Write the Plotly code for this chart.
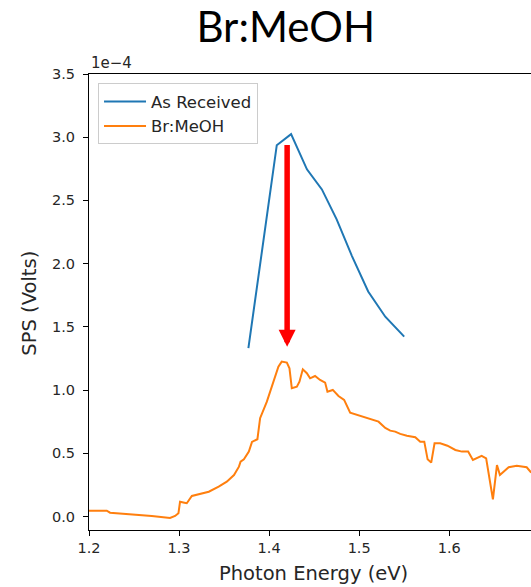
import plotly.graph_objects as go

# Photon energy (eV) and SPS signal (units of 1e-4 V)
as_received_x = [1.377, 1.4085, 1.4244, 1.442, 1.4586, 1.475, 1.492, 1.510, 1.529, 1.55]
as_received_y = [1.331, 2.937, 3.024, 2.746, 2.587, 2.35, 2.06, 1.78, 1.58, 1.423]

brmeoh_x = [1.200, 1.2197, 1.2234, 1.2508, 1.2697, 1.290, 1.2956, 1.2993, 1.3011, 1.306,
            1.3086, 1.3142, 1.318, 1.3253, 1.333, 1.344, 1.353, 1.361, 1.3665, 1.3683,
            1.372, 1.3775, 1.381, 1.387, 1.390, 1.3975, 1.4048, 1.4103, 1.414, 1.4197,
            1.4226, 1.4252, 1.4308, 1.4337, 1.4374, 1.4419, 1.4455, 1.451, 1.4566, 1.4622,
            1.4648, 1.4707, 1.477, 1.4833, 1.49, 1.4974, 1.5085, 1.5215, 1.529, 1.5345,
            1.54, 1.5456, 1.553, 1.5623, 1.5678, 1.5723, 1.576, 1.58, 1.5837, 1.590,
            1.598, 1.6068, 1.6141, 1.621, 1.6263, 1.6308, 1.636, 1.641, 1.6485, 1.653,
            1.6563, 1.666, 1.675, 1.686, 1.691]
brmeoh_y = [0.046, 0.046, 0.030, 0.017, 0.004, -0.012, 0.004, 0.025, 0.117, 0.109,
            0.105, 0.162, 0.170, 0.183, 0.196, 0.236, 0.275, 0.328, 0.394, 0.434,
            0.452, 0.513, 0.590, 0.611, 0.777, 0.908, 1.066, 1.185, 1.225, 1.217,
            1.172, 1.014, 1.027, 1.066, 1.164, 1.133, 1.093, 1.111, 1.080, 1.059,
            0.987, 1.001, 0.953, 0.922, 0.821, 0.803, 0.777, 0.750, 0.700, 0.679,
            0.671, 0.653, 0.639, 0.627, 0.592, 0.592, 0.452, 0.426, 0.579, 0.579,
            0.560, 0.526, 0.513, 0.513, 0.447, 0.460, 0.479, 0.460, 0.136, 0.407,
            0.328, 0.389, 0.402, 0.389, 0.347]

x_ticks = [1.2, 1.3, 1.4, 1.5, 1.6, 1.7]
x_tick_labels = ["1.2", "1.3", "1.4", "1.5", "1.6", "1.7"]
y_ticks = [0.0, 0.5, 1.0, 1.5, 2.0, 2.5, 3.0, 3.5]
y_tick_labels = ["0.0", "0.5", "1.0", "1.5", "2.0", "2.5", "3.0", "3.5"]

arrow_x = 1.42
arrow_from_y = 2.95
arrow_to_y = 1.343

TICK_FONT = dict(family="DejaVu Sans", size=14.5, color="#262626")
LABEL_FONT = dict(family="DejaVu Sans", size=19.5, color="#262626")
LEGEND_FONT = dict(family="DejaVu Sans", size=16.5, color="#262626")

fig = go.Figure()
fig.add_trace(go.Scatter(x=as_received_x, y=as_received_y, mode="lines", name="As Received",
                         line=dict(color="#1f77b4", width=2), legendgroup="a"))
fig.add_trace(go.Scatter(x=brmeoh_x, y=brmeoh_y, mode="lines", name="Br:MeOH",
                         line=dict(color="#ff7f0e", width=2), legendgroup="b"))

fig.add_annotation(x=arrow_x, y=arrow_to_y, ax=arrow_x, ay=arrow_from_y,
                   xref="x", yref="y", axref="x", ayref="y", text="",
                   showarrow=True, arrowhead=2, arrowsize=0.62, arrowwidth=5.5,
                   arrowcolor="#ff0000", standoff=0, startstandoff=0)

fig.add_annotation(text="1e\u22124", x=0.0, y=1.0241, xref="paper", yref="paper",
                   xanchor="left", yanchor="middle", showarrow=False,
                   font=dict(family="DejaVu Sans", size=15, color="#262626"))
fig.add_annotation(text="Photon Energy (eV)", x=0.509, y=-0.095, xref="paper", yref="paper",
                   xanchor="center", yanchor="middle", showarrow=False, font=LABEL_FONT)
fig.add_annotation(text="SPS (Volts)", x=-0.1354, y=0.4967, xref="paper", yref="paper",
                   xanchor="center", yanchor="middle", textangle=-90, showarrow=False,
                   font=LABEL_FONT)

fig.update_layout(
    width=531, height=587,
    margin=dict(l=89, r=0, t=74, b=57, autoexpand=False),
    paper_bgcolor="white", plot_bgcolor="white",
    title=dict(text="Br:MeOH", x=285.7 / 531, xanchor="center", y=1 - 27 / 587,
               yanchor="middle", xref="container", yref="container",
               font=dict(family="Lato", size=42, color="black")),
    showlegend=True,
    legend=dict(x=0.0204, y=0.9796, xanchor="left", yanchor="top", bgcolor="white",
                bordercolor="#cccccc", borderwidth=1, font=LEGEND_FONT,
                traceorder="grouped", tracegroupgap=0, itemwidth=42),
)

fig.update_xaxes(range=[1.2, 1.6908], tickvals=x_ticks, ticktext=x_tick_labels,
                 showgrid=False, zeroline=False, showline=True, linecolor="black",
                 linewidth=1, mirror=True, ticks="outside", ticklen=5, tickcolor="black",
                 tickfont=TICK_FONT)
fig.update_yaxes(range=[-0.107, 3.5], tickvals=y_ticks, ticktext=y_tick_labels,
                 showgrid=False, zeroline=False, showline=True, linecolor="black",
                 linewidth=1, ticks="outside", ticklen=5, tickcolor="black",
                 tickfont=TICK_FONT, ticklabelstandoff=5)

fig.write_html("out.html", config={"displayModeBar": False},
               post_script="document.body.style.margin='0';document.body.style.overflow='hidden';")
